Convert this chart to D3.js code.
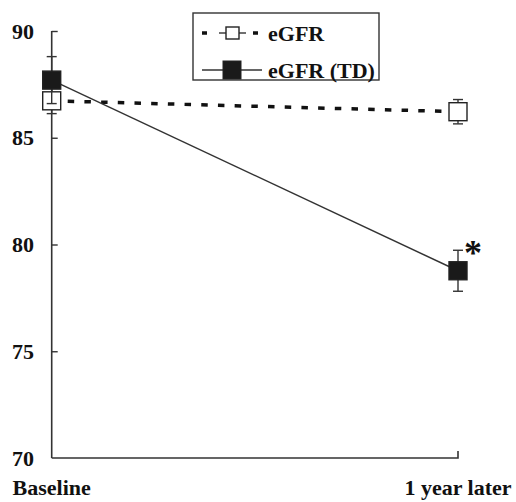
<!DOCTYPE html>
<html><head><meta charset="utf-8">
<script src="https://cdn.jsdelivr.net/npm/d3@7"></script>
<style>body{margin:0;background:#fff}svg{display:block}</style>
</head><body>
<svg id="c" width="516" height="502"></svg>
<script>
const categories = ["Baseline", "1 year later"];
const eGFR = [86.73, 86.22];
const eGFRErr = [0.6, 0.57];
const eGFRTD = [87.7, 78.77];
const eGFRTDErr = [1.1, 0.96];
const yTicks = [70, 75, 80, 85, 90];
const seriesNames = ["eGFR", "eGFR (TD)"];

const svg = d3.select("#c");
const font = "'Liberation Serif','Times New Roman',serif";
const x = d3.scalePoint().domain(categories).range([51.7, 458]);
const y = d3.scaleLinear().domain([70, 90]).range([458, 31]);
const ink = "#333";

// y axis
const yAxis = svg.append("g").attr("transform", `translate(${x(categories[0])},0)`)
  .call(d3.axisRight(y).tickValues(yTicks).tickSize(6).tickFormat(""));
yAxis.select(".domain").attr("d", `M0,${y(90)}V${y(70)}`).attr("stroke", ink).attr("stroke-width", 1.6);
yAxis.selectAll(".tick line").attr("stroke", ink).attr("stroke-width", 1.4);
yAxis.selectAll(".tick").filter(d => d === 70).select("line").remove();
svg.append("g").selectAll("text").data(yTicks).join("text")
  .attr("x", 34).attr("y", d => y(d)).attr("dy", "0.35em").attr("text-anchor", "end")
  .attr("font-family", font).attr("font-weight", "bold").attr("font-size", 22).attr("fill", "#111")
  .text(d => d);

// x axis
svg.append("path").attr("d", `M${x(categories[0])},${y(70)}H${x(categories[1])}V${y(70)-7}`)
  .attr("fill", "none").attr("stroke", ink).attr("stroke-width", 1.6);
svg.append("g").selectAll("text").data(categories).join("text")
  .attr("x", d => x(d)).attr("y", 495).attr("text-anchor", "middle")
  .attr("font-family", font).attr("font-weight", "bold").attr("font-size", 22).attr("fill", "#111")
  .text(d => d);

// lines
const line = d3.line().x((d, i) => x(categories[i])).y(d => y(d));
svg.append("path").datum(eGFR).attr("d", line).attr("fill", "none")
  .attr("stroke", "#111").attr("stroke-width", 3.5).attr("stroke-dasharray", "6.5,10.2").attr("stroke-dashoffset", -16);
svg.append("path").datum(eGFRTD).attr("d", line).attr("fill", "none")
  .attr("stroke", "#333").attr("stroke-width", 1.5);

// error bars + markers
function drawSeries(vals, errs, fill) {
  const g = svg.append("g");
  vals.forEach((v, i) => {
    const cx = x(categories[i]);
    const eb = g.append("g").attr("stroke", ink).attr("stroke-width", 1.4);
    eb.append("line").attr("x1", cx).attr("x2", cx).attr("y1", y(v + errs[i])).attr("y2", y(v - errs[i]));
    [v + errs[i], v - errs[i]].forEach(e => eb.append("line").attr("x1", cx - 5).attr("x2", cx + 5).attr("y1", y(e)).attr("y2", y(e)));
    g.append("rect").attr("x", cx - 9).attr("y", y(v) - 9).attr("width", 18).attr("height", 18)
      .attr("fill", fill).attr("stroke", "#222").attr("stroke-width", 1.4);
  });
}
drawSeries(eGFR, eGFRErr, "#fff");
drawSeries(eGFRTD, eGFRTDErr, "#1a1a1a");

// asterisk
svg.append("text").attr("x", x(categories[1]) + 6).attr("y", 265)
  .attr("font-family", font).attr("font-weight", "bold").attr("font-size", 36).attr("fill", "#111").text("*");

// legend
const lg = svg.append("g");
lg.append("rect").attr("x", 193).attr("y", 13).attr("width", 186).attr("height", 67)
  .attr("fill", "#fff").attr("stroke", "#333").attr("stroke-width", 1.4);
// row 1
lg.append("line").attr("x1", 202).attr("x2", 207).attr("y1", 33).attr("y2", 33).attr("stroke", "#111").attr("stroke-width", 3.5);
lg.append("line").attr("x1", 219).attr("x2", 246).attr("y1", 33).attr("y2", 33).attr("stroke", "#333").attr("stroke-width", 1.4);
lg.append("rect").attr("x", 226).attr("y", 27).attr("width", 13).attr("height", 12).attr("fill", "#fff").attr("stroke", "#222").attr("stroke-width", 1.4);
lg.append("line").attr("x1", 253).attr("x2", 258).attr("y1", 33).attr("y2", 33).attr("stroke", "#111").attr("stroke-width", 3.5);
// row 2
lg.append("line").attr("x1", 202).attr("x2", 262).attr("y1", 70).attr("y2", 70).attr("stroke", "#333").attr("stroke-width", 1.5);
lg.append("rect").attr("x", 223).attr("y", 61).attr("width", 18).attr("height", 18).attr("fill", "#1a1a1a").attr("stroke", "#222").attr("stroke-width", 1);
lg.selectAll("text.l").data(seriesNames).join("text").attr("class", "l")
  .attr("x", 268).attr("y", (d, i) => [33, 70][i]).attr("dy", "0.35em")
  .attr("font-family", font).attr("font-weight", "bold").attr("font-size", 22).attr("fill", "#111")
  .text(d => d);
</script>
</body></html>
